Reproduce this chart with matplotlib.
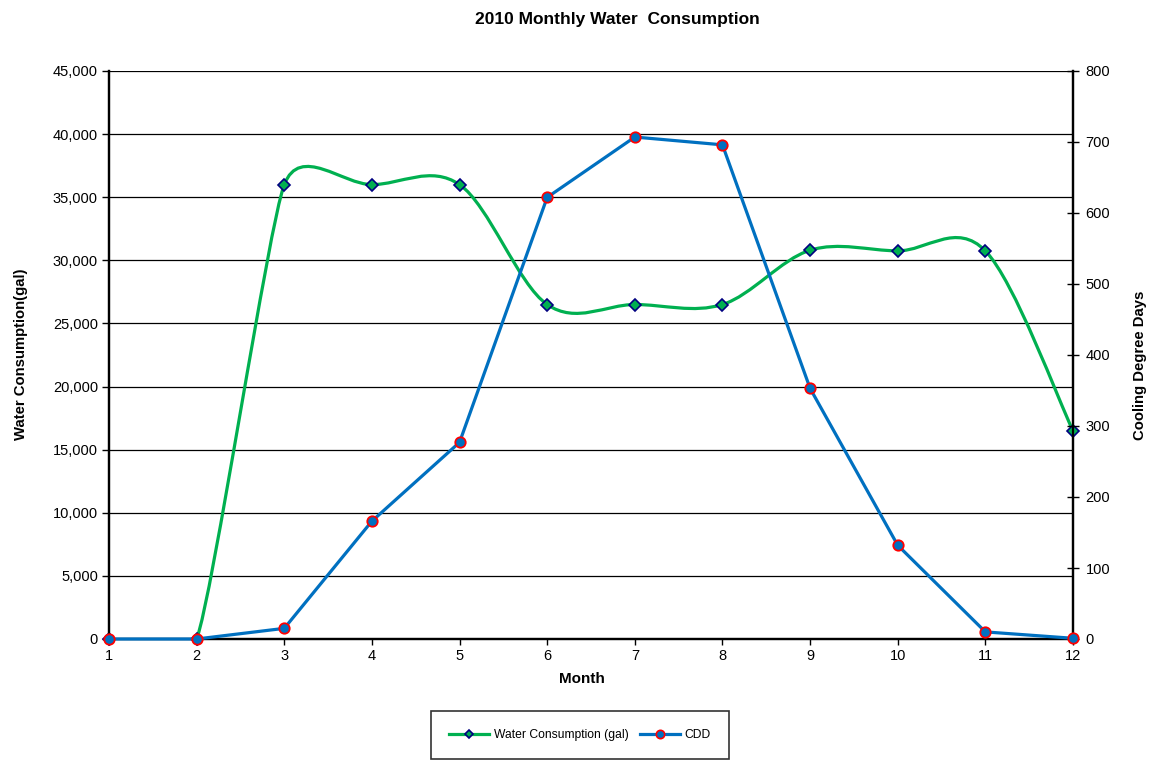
import numpy as np
import matplotlib
matplotlib.use("Agg")
import matplotlib.pyplot as plt
from matplotlib.path import Path
from matplotlib.patches import PathPatch
from matplotlib.ticker import FuncFormatter, MultipleLocator

plt.rcParams['font.family'] = ['Liberation Sans', 'DejaVu Sans']

months = [1, 2, 3, 4, 5, 6, 7, 8, 9, 10, 11, 12]
water_gal = [0, 0, 36000, 36000, 36000, 26500, 26500, 26500, 30800, 30750, 30750, 16500]
cdd = [0, 0, 15, 166, 277, 622, 707, 696, 353, 132, 10, 1]

GREEN = '#00B050'
BLUE = '#0070C0'
NAVY = '#000080'
RED = '#FF0000'

W, H = 1154, 762
fig = plt.figure(figsize=(W / 100, H / 100), dpi=100)
ax = fig.add_axes([109 / W, (H - 639) / H, 964 / W, 568 / H])
ax2 = ax.twinx()

ax.set_xlim(1, 12)
ax.set_ylim(0, 45000)
ax2.set_ylim(0, 800)


def smooth_path(axis, xs, ys):
    """Bezier path through the points, built in display space with
    tangents limited by the neighbouring segment lengths."""
    pts = axis.transData.transform(np.column_stack([xs, ys]))
    n = len(pts)

    def ctrl_len(i):
        p0 = pts[i - 1] if i > 0 else pts[i]
        p1 = pts[i]
        p2 = pts[i + 1] if i < n - 1 else pts[i]
        tang = p2 - p0
        d02 = np.linalg.norm(tang)
        if d02 == 0:
            return np.zeros(2)
        cands = [d02 / 6]
        if i > 0:
            cands.append(np.linalg.norm(p1 - p0) / 2)
        if i < n - 1:
            cands.append(np.linalg.norm(p2 - p1) / 2)
        return tang / d02 * min(cands)

    verts = [pts[0]]
    codes = [Path.MOVETO]
    for i in range(n - 1):
        c1 = pts[i] + ctrl_len(i)
        c2 = pts[i + 1] - ctrl_len(i + 1)
        verts += [c1, c2, pts[i + 1]]
        codes += [Path.CURVE4] * 3
    data_verts = axis.transData.inverted().transform(np.array(verts))
    return Path(data_verts, codes)


# Horizontal gridlines on the primary axis
ax.yaxis.set_major_locator(MultipleLocator(5000))
ax.grid(axis='y', color='black', linewidth=0.9, zorder=0)
ax.set_axisbelow(True)

# Water consumption: smoothed line with diamond markers
patch = PathPatch(smooth_path(ax, months, water_gal), facecolor='none',
                  edgecolor=GREEN, linewidth=2.3, zorder=3, clip_on=True)
ax.add_patch(patch)
ax.plot(months, water_gal, linestyle='none', marker='D', markersize=6,
        markerfacecolor=GREEN, markeredgecolor=NAVY, markeredgewidth=1.2,
        zorder=4, clip_on=False)
water_handle = plt.Line2D([], [], color=GREEN, linewidth=2.3, marker='D',
                          markersize=4.5, markerfacecolor=GREEN,
                          markeredgecolor=NAVY, markeredgewidth=1.2)

# Cooling degree days on the secondary axis
ax2.plot(months, cdd, color=BLUE, linewidth=2.3, marker='o', markersize=7.5,
         markerfacecolor=BLUE, markeredgecolor=RED, markeredgewidth=1.3,
         zorder=5, clip_on=False)
cdd_handle = plt.Line2D([], [], color=BLUE, linewidth=2.3, marker='o',
                        markersize=6, markerfacecolor=BLUE,
                        markeredgecolor=RED, markeredgewidth=1.2)

# Axes styling
ax.set_xticks(months)
ax.yaxis.set_major_formatter(FuncFormatter(lambda v, p: f"{int(v):,}"))
ax2.yaxis.set_major_locator(MultipleLocator(100))

for a in (ax, ax2):
    a.spines['top'].set_visible(False)
    for s in ('left', 'right', 'bottom'):
        a.spines[s].set_linewidth(1.6)
        a.spines[s].set_color('black')

ax.tick_params(axis='y', direction='out', length=5, width=1, labelsize=10.5, pad=3)
ax.tick_params(axis='x', direction='out', length=4, width=1, labelsize=10.5, pad=3)
ax2.tick_params(axis='y', direction='inout', length=8, width=1, labelsize=10.5, pad=5)

# Titles and axis labels
fig.text(617 / W, 1 - 24 / H, '2010 Monthly Water  Consumption', ha='center',
         va='baseline', fontsize=12.5, fontweight='bold')
fig.text(582 / W, 1 - 679 / H, 'Month', ha='center', va='center',
         fontsize=11, fontweight='bold')
fig.text(21 / W, 1 - 354 / H, 'Water Consumption(gal)', ha='center',
         va='center', rotation=90, fontsize=10.7, fontweight='bold')
fig.text(1140 / W, 1 - 365 / H, 'Cooling Degree Days', ha='center',
         va='center', rotation=90, fontsize=10.7, fontweight='bold')

leg = fig.legend([water_handle, cdd_handle], ['Water Consumption (gal)', 'CDD'],
                 loc='center', bbox_to_anchor=(580 / W, 1 - 735 / H), ncol=2,
                 fontsize=8.7, frameon=True, fancybox=False, borderpad=1.5,
                 handlelength=3.3, handletextpad=0.4, columnspacing=0.9)
leg.get_frame().set_edgecolor('black')
leg.get_frame().set_linewidth(1.2)

fig.savefig('out.png', dpi=100)
